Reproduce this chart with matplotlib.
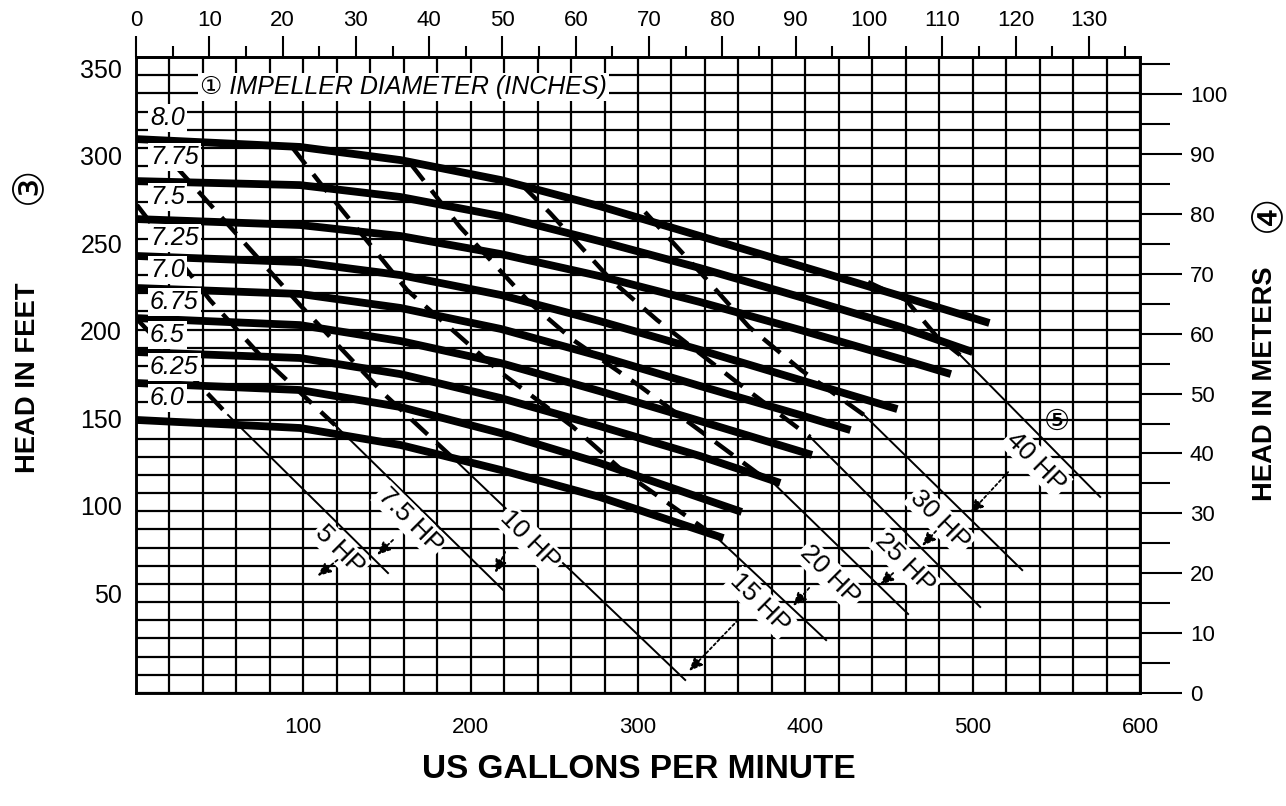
import numpy as np
import matplotlib.pyplot as plt
from matplotlib import font_manager
from matplotlib.ticker import MultipleLocator

# impeller curves, US gpm vs head in feet
impellers = ['8.0', '7.75', '7.5', '7.25', '7.0', '6.75', '6.5', '6.25', '6.0']
imp_gpm = [
    [0, 98, 158, 218, 277, 337, 397, 457, 510],
    [0, 98, 158, 218, 277, 337, 397, 457, 500],
    [0, 98, 158, 218, 277, 337, 397, 457, 487],
    [0, 98, 158, 218, 277, 337, 397, 455],
    [0, 98, 158, 218, 277, 337, 397, 427],
    [0, 98, 158, 218, 277, 337, 404],
    [0, 98, 158, 218, 277, 337, 385],
    [0, 98, 158, 218, 277, 362],
    [0, 98, 158, 218, 277, 351],
]
imp_head = [
    [309.4, 304.9, 297.4, 286.0, 271.1, 254.0, 236.9, 219.7, 204.3],
    [285.4, 283.1, 276.3, 265.4, 251.1, 235.7, 219.1, 202.0, 187.7],
    [263.7, 260.3, 254.0, 243.7, 231.1, 216.3, 200.3, 183.7, 175.1],
    [242.6, 239.1, 231.7, 220.3, 205.4, 188.9, 171.7, 155.1],
    [224.3, 220.9, 212.9, 200.9, 185.4, 168.3, 151.7, 143.1],
    [207.1, 203.1, 194.0, 181.4, 165.4, 148.3, 128.9],
    [187.7, 184.3, 175.1, 161.4, 145.4, 128.3, 112.9],
    [170.0, 166.0, 156.3, 141.4, 124.3, 96.3],
    [148.9, 144.3, 134.6, 120.3, 104.9, 81.4],
]
imp_label_head = [321.4, 299.1, 276.3, 252.9, 234.6, 216.3, 197.4, 179.1, 161.4]

# horsepower lines: dashed up to the break point, thin after it
hp_names = ['5 HP', '7.5 HP', '10 HP', '15 HP', '20 HP', '25 HP', '30 HP', '40 HP']
hp_gpm = [
    [0, 55.0, 150.6],
    [0.6, 44.2, 74.1, 118.9, 219.4],
    [9.6, 47.2, 98.0, 147.6, 190.7, 328.2],
    [93.2, 110.0, 162.0, 217.6, 261.2, 292.3, 346.7, 412.4],
    [163.8, 193.7, 235.5, 261.2, 300.1, 371.2, 380.8, 461.4],
    [230.7, 247.5, 283.9, 311.4, 357.4, 402.9, 504.5],
    [304.2, 341.3, 366.4, 397.5, 435.1, 529.6],
    [437.5, 460.2, 478.8, 492.5, 576.2],
]
hp_head = [
    [207.1, 151.7, 61.4],
    [271.7, 217.4, 186.0, 146.0, 51.7],
    [308.9, 268.9, 214.6, 164.3, 126.0, 0.3],
    [304.9, 284.3, 223.1, 176.3, 144.9, 118.6, 82.0, 23.1],
    [295.7, 259.1, 215.7, 194.6, 168.9, 118.6, 112.9, 38.0],
    [283.1, 267.1, 228.9, 206.0, 171.7, 139.1, 42.0],
    [267.7, 228.9, 202.0, 177.4, 151.7, 63.1],
    [227.7, 217.4, 196.3, 186.0, 104.9],
]
hp_break = [1, 3, 4, 6, 6, 5, 4, 3]
hp_label_gpm = [121.9, 163.8, 235.5, 373.0, 414.8, 459.6, 480.6, 538.0]
hp_label_head = [74.6, 91.7, 80.3, 44.3, 60.3, 66.9, 91.7, 124.9]
hp_arrow_from = [(120.4, 68.9), (153.6, 80.3), (220.6, 73.4), (359.8, 34.6),
                 (402.3, 52.9), (452.5, 61.4), (478.1, 85.4), (521.2, 119.1)]
hp_arrow_to = [(108.5, 59.7), (144.1, 71.7), (214.6, 61.4), (330.5, 5.4),
               (392.7, 42.6), (444.7, 54.6), (469.8, 76.9), (498.5, 95.7)]

gpm_ticks = [100, 200, 300, 400, 500, 600]
feet_ticks = [50, 100, 150, 200, 250, 300, 350]
meter_ticks = list(range(0, 101, 10))
m3h_ticks = list(range(0, 131, 10))

names = {f.name for f in font_manager.fontManager.ttflist}
has_narrow = 'Liberation Sans Narrow' in names
NARROW = ['Liberation Sans Narrow', 'DejaVu Sans'] if has_narrow else ['Liberation Sans', 'DejaVu Sans']
nk = 1.0 if has_narrow else 0.82
REG = ['Liberation Sans', 'DejaVu Sans']
plt.rcParams['font.family'] = REG

fig = plt.figure(figsize=(12.86, 8.06), dpi=100)
ax = fig.add_axes([136 / 1286, 1 - 693 / 806, 1004 / 1286, 636 / 806])
ylo, yhi = -7.14, 356.3
ax.set_xlim(0, 600)
ax.set_ylim(ylo, yhi)

# grid
ax.vlines(np.arange(0, 601, 20), ylo, yhi, color='k', lw=1.6, zorder=1)
ax.hlines(np.linspace(ylo, yhi, 36), 0, 600, color='k', lw=1.6, zorder=1)

for g, h in zip(imp_gpm, imp_head):
    ax.plot(g, h, color='k', lw=5.6, solid_capstyle='butt', zorder=3)

for g, h, b in zip(hp_gpm, hp_head, hp_break):
    ax.plot(g[:b + 1], h[:b + 1], color='k', lw=3.2, dashes=(5.0, 2.8), zorder=3)
    ax.plot(g[b:], h[b:], color='k', lw=1.4, zorder=3)

box = dict(fc='white', ec='none', pad=1.5)
for name, hy in zip(impellers, imp_label_head):
    ax.text(8.4, hy, name, fontsize=18, style='italic', ha='left', va='center',
            bbox=box, zorder=5)
ax.text(38.3, 339.1, '\u2460 IMPELLER DIAMETER (INCHES)', fontsize=18, style='italic',
        ha='left', va='center', bbox=box, zorder=5)

for name, gx, hy in zip(hp_names, hp_label_gpm, hp_label_head):
    ax.text(gx, hy, name, fontsize=19, rotation=-45, rotation_mode='anchor',
            ha='center', va='center', bbox=box, zorder=5)
for a, b in zip(hp_arrow_from, hp_arrow_to):
    ax.annotate('', xy=b, xytext=a, zorder=6,
                arrowprops=dict(arrowstyle='-|>,head_length=0.8,head_width=0.35',
                                color='k', lw=1.3, linestyle=(0, (1.5, 1.5)),
                                shrinkA=0, shrinkB=0))
ax.text(550.5, 147.7, '\u2464', fontsize=21, ha='center', va='center',
        family=['DejaVu Serif', 'DejaVu Sans'], zorder=5)

for s in ax.spines.values():
    s.set_linewidth(1.8)
ax.set_xticks(gpm_ticks)
ax.set_yticks(feet_ticks)
ax.tick_params(axis='x', length=0, pad=17, labelsize=16)
ax.tick_params(axis='y', length=0, pad=10, labelsize=18)

# top scale: cubic meters per hour
top = ax.secondary_xaxis('top', functions=(lambda q: q / 4.38, lambda m: m * 4.38))
top.set_xticks(m3h_ticks)
top.xaxis.set_minor_locator(MultipleLocator(5))
top.tick_params(which='major', length=15, width=1.5, direction='out', pad=4, labelsize=16)
top.tick_params(which='minor', length=8, width=1.5, direction='out')
top.spines['top'].set_linewidth(1.8)

# right scale: meters
ax2 = ax.twinx()
ax2.set_ylim(0, 106.2)
ax2.set_yticks(meter_ticks)
ax2.yaxis.set_minor_locator(MultipleLocator(5))
ax2.tick_params(which='major', length=30, width=1.5, direction='out', pad=6, labelsize=16)
ax2.tick_params(which='minor', length=21.6, width=1.5, direction='out')
for s in ax2.spines.values():
    s.set_linewidth(1.8)

fig.text(639 / 1286, 1 - 770 / 806, 'US GALLONS PER MINUTE', fontsize=24,
         fontweight='bold', ha='center', va='center')
fig.text(28 / 1286, 1 - 378 / 806, 'HEAD IN FEET', fontsize=24 * nk, family=NARROW,
         fontweight='bold', rotation=90, ha='center', va='center')
fig.text(28 / 1286, 1 - 185 / 806, '\u2462', fontsize=30, rotation=90,
         ha='center', va='center', family=['DejaVu Sans'])
fig.text(1265 / 1286, 1 - 384 / 806, 'HEAD IN METERS', fontsize=24 * nk, family=NARROW,
         fontweight='bold', rotation=90, ha='center', va='center')
fig.text(1267 / 1286, 1 - 213 / 806, '\u2463', fontsize=30, rotation=90,
         ha='center', va='center', family=['DejaVu Sans'])

fig.savefig('out.png', dpi=100, facecolor='white')
